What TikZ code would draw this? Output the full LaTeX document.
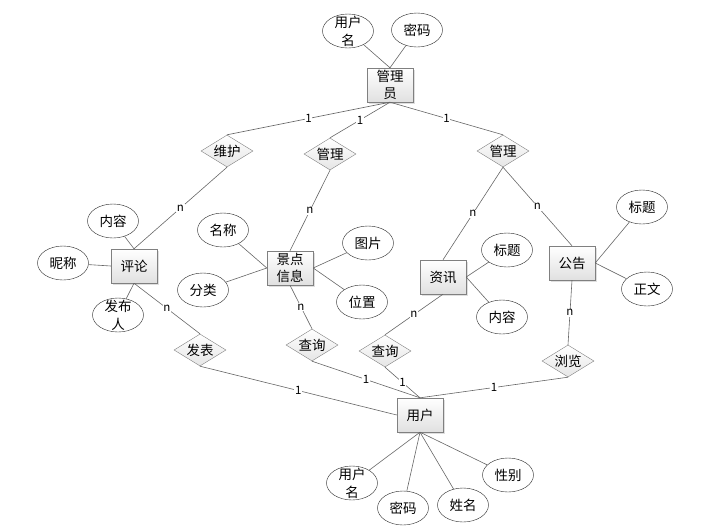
\documentclass[tikz,border=0pt]{standalone}
\usepackage{fontspec}
\setmainfont{Noto Sans CJK SC}
\usetikzlibrary{shapes.geometric,shadows}

\begin{document}
\begin{tikzpicture}[x=1pt,y=-1pt,
    every edge/.style={draw=black!60,line width=0.6pt},
    entity/.style={rectangle,draw=black!50,top color=white,bottom color=black!12,
      drop shadow={shadow xshift=1.5pt,shadow yshift=-1.5pt,fill=black!25},
      minimum width=46pt,minimum height=34pt,inner sep=0pt,align=center,
      font=\fontsize{13.5}{17}\selectfont},
    rel/.style={diamond,aspect=1.6,draw=black!50,top color=white,bottom color=black!10,
      minimum width=52pt,minimum height=32pt,inner sep=0pt,font=\fontsize{13.5}{15}\selectfont},
    attr/.style={ellipse,draw=black!85,fill=white,minimum width=51pt,minimum height=34pt,
      inner sep=0pt,font=\fontsize{13.5}{15}\selectfont},
    twoline/.style={align=center,inner sep=0pt,font=\fontsize{13.5}{18}\selectfont},
    card/.style={fill=white,inner sep=0.8pt,font=\fontsize{11.5}{13}\selectfont}]

  \useasboundingbox (0,0) rectangle (726,528);

  % Entities
  \node[entity] (admin)    at (390,85)  {管理\\员};
  \node[entity] (pinglun)  at (134,266) {评论};
  \node[entity] (jingdian) at (290,268) {景点\\信息};
  \node[entity] (zixun)    at (443,277) {资讯};
  \node[entity] (gonggao)  at (572,263) {公告};
  \node[entity] (yonghu)   at (420,415) {用户};

  % Relations
  \node[rel] (weihu)   at (227,151) {维护};
  \node[rel] (guanlia) at (330,154) {管理};
  \node[rel] (guanlib) at (503,151) {管理};
  \node[rel] (fabiao)  at (200,350) {发表};
  \node[rel] (chaxuna) at (312,345) {查询};
  \node[rel] (chaxunb) at (385,351) {查询};
  \node[rel] (liulan)  at (568,361) {浏览};

  % Attributes
  \node[attr,label={[twoline]center:用户\\名}] (aname) at (348,31) {};
  \node[attr] (apwd)  at (417,30)  {密码};
  \node[attr] (pcont) at (113,221) {内容};
  \node[attr] (pnick) at (63,263)  {昵称};
  \node[attr,label={[twoline]center:发布\\人}] (pauth) at (118,315) {};
  \node[attr] (jname) at (223,230) {名称};
  \node[attr] (jtype) at (203,290) {分类};
  \node[attr] (jpic)  at (368,243) {图片};
  \node[attr] (jpos)  at (362,302) {位置};
  \node[attr] (ztit)  at (507,250) {标题};
  \node[attr] (zcont) at (502,317) {内容};
  \node[attr] (gtit)  at (642,207) {标题};
  \node[attr] (gtext) at (647,289) {正文};
  \node[attr,label={[twoline]center:用户\\名}] (uname) at (352,483) {};
  \node[attr] (upwd)  at (403,508) {密码};
  \node[attr] (ureal) at (463,505) {姓名};
  \node[attr] (usex)  at (508,475) {性别};

  % Attribute links
  \path (aname) edge (admin.north);
  \path (apwd) edge (admin.north);
  \path (pcont) edge (pinglun.north);
  \path (pnick) edge (pinglun.west);
  \path (pauth) edge (pinglun.south);
  \path (jname) edge (jingdian.west);
  \path (jtype) edge (jingdian.west);
  \path (jpic) edge (jingdian.east);
  \path (jpos) edge (jingdian.east);
  \path (ztit) edge (zixun.east);
  \path (zcont) edge (zixun.east);
  \path (gtit) edge (gonggao.east);
  \path (gtext) edge (gonggao.east);
  \path (uname) edge (yonghu.south);
  \path (upwd) edge (yonghu.south);
  \path (ureal) edge (yonghu.south);
  \path (usex) edge (yonghu.south);

  % Relationships
  \path (admin.south) edge node[card] {1} (weihu.north);
  \path (admin.south) edge node[card] {1} (guanlia.north);
  \path (admin.south) edge node[card] {1} (guanlib.north);
  \path (weihu.south) edge node[card] {n} (pinglun.north);
  \path (guanlia.south) edge node[card] {n} (jingdian.north);
  \path (guanlib.south) edge node[card] {n} (zixun.north);
  \path (guanlib.south) edge node[card] {n} (gonggao.north);
  \path (pinglun.south) edge node[card] {n} (fabiao.north);
  \path (fabiao.south) edge node[card] {1} (yonghu.west);
  \path (jingdian.south) edge node[card] {n} (chaxuna.north);
  \path (chaxuna.south) edge node[card] {1} (yonghu.north);
  \path (zixun.south) edge node[card] {n} (chaxunb.north);
  \path (chaxunb.south) edge node[card] {1} (yonghu.north);
  \path (gonggao.south) edge node[card] {n} (liulan.north);
  \path (liulan.south) edge node[card] {1} (yonghu.north);

\end{tikzpicture}
\end{document}
